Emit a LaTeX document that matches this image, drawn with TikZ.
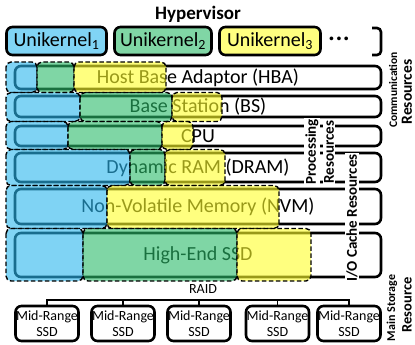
\documentclass[tikz,border=0pt]{standalone}
\usepackage{fontspec}
\setmainfont{Carlito}
\definecolor{ublue}{RGB}{128,212,245}
\definecolor{ugreen}{RGB}{128,214,165}
\definecolor{uyellow}{RGB}{255,255,128}
\definecolor{oblue}{RGB}{43,183,238}
\definecolor{ogreen}{RGB}{43,187,105}
\definecolor{oyellow}{RGB}{255,255,43}
\tikzset{
 ubox/.style={draw, line width=2.6pt, rounded corners=6pt, minimum height=28pt, inner sep=0pt, font=\fontsize{20}{24}\selectfont},
 resbar/.style={draw, fill=white, line width=2.6pt, rounded corners=6pt, inner sep=0pt, minimum width=366pt, font=\fontsize{20}{24}\selectfont},
 seg/.style={fill=#1, fill opacity=0.6, draw=black, line width=1.4pt, dash pattern=on 4.5pt off 2.5pt, rounded corners=5pt},
 vlab/.style={rotate=90, fill=white, inner sep=1pt, font=\bfseries\fontsize{15}{18}\selectfont},
 ssdbox/.style={draw, line width=2.6pt, rounded corners=6pt, minimum width=63pt, minimum height=35pt, inner sep=0pt, align=center, font=\fontsize{14}{16}\selectfont},
 conn/.style={draw, line width=1.4pt},
}
\begin{document}
\begin{tikzpicture}[x=1pt,y=-1pt]
\useasboundingbox (0,0) rectangle (415,345);
% title
\node[font=\bfseries\fontsize{19}{22}\selectfont] (hyp) at (198,14) {Hypervisor};
% unikernels
\node[ubox, fill=ublue, minimum width=100pt] (u1) at (56.5,41) {Unikernel\textsubscript{1}};
\node[ubox, fill=ugreen, minimum width=97pt] (u2) at (163,41) {Unikernel\textsubscript{2}};
\node[ubox, fill=uyellow, minimum width=101pt] (u3) at (270,41) {Unikernel\textsubscript{3}};
\node[font=\bfseries\fontsize{20}{24}\selectfont] (dots) at (339,41) {·\hspace{2pt}·\hspace{2pt}·};
\draw[line width=2.6pt, rounded corners=4pt] (372,28) -- (381,28) -- (381,55) -- (372,55);
% resource bars
\node[resbar, minimum height=23pt] (hba) at (198,77.5) {Host Base Adaptor (HBA)};
\node[resbar, minimum height=21pt] (bs) at (198,106.5) {Base Station (BS)};
\node[resbar, minimum height=20pt] (cpu) at (198,136) {CPU};
\node[resbar, minimum height=29pt] (dram) at (198,167.5) {Dynamic RAM (DRAM)};
\node[resbar, minimum height=35pt] (nvm) at (198,206.5) {Non-Volatile Memory (NVM)};
\node[resbar, minimum height=44pt] (ssd) at (198,255) {High-End SSD};
% allocations
% row 1
\path[seg=oblue] (6,62) rectangle (37,92.5);
\path[seg=ogreen] (37,62) rectangle (74,92.5);
\path[seg=oyellow] (74,62) rectangle (166,92.5);
% row 2
\path[seg=oblue] (6,92.5) rectangle (80,121.5);
\path[seg=ogreen] (80,92.5) rectangle (172,121.5);
\path[seg=oyellow] (172,92.5) rectangle (222,121.5);
% row 3
\path[seg=oblue] (6,121.5) rectangle (68,149.5);
\path[seg=ogreen] (68,121.5) rectangle (162,149.5);
\path[seg=oyellow] (162,121.5) rectangle (193,149.5);
% row 4
\path[seg=oblue] (6,149.5) rectangle (130,185.5);
\path[seg=ogreen] (130,149.5) rectangle (165,185.5);
\path[seg=oyellow] (165,149.5) rectangle (225,185.5);
% row 5
\path[seg=oblue] (6,185.5) rectangle (107,228.5);
\path[seg=oyellow] (107,185.5) rectangle (279,228.5);
% row 6
\path[seg=oblue] (6,228.5) rectangle (83,281);
\path[seg=ogreen] (83,228.5) rectangle (237,281);
\path[seg=oyellow] (237,228.5) rectangle (311,281);
% resource group labels
\node[rotate=90, font=\bfseries\fontsize{11.5}{13}\selectfont, inner sep=0pt] (comm1) at (393,90) {Communication};
\node[rotate=90, font=\bfseries\fontsize{15.5}{18}\selectfont, inner sep=0pt] (comm2) at (407,92) {Resources};
\node[vlab] (proc1) at (312,152) {Processing};
\node[vlab] (proc2) at (329,152) {Resources};
\node[vlab] (ioc) at (352,218) {I/O Cache Resources};
\node[rotate=90, font=\bfseries\fontsize{12}{14}\selectfont, inner sep=0pt] (ms1) at (392,308) {Main Storage};
\node[rotate=90, font=\bfseries\fontsize{14.5}{17}\selectfont, inner sep=0pt] (ms2) at (407,305) {Resource};
% RAID
\node[font=\fontsize{14}{16}\selectfont] (raid) at (203,289) {RAID};
\node[ssdbox] (s1) at (47,323.5) {Mid-Range\\SSD};
\node[ssdbox] (s2) at (123,323.5) {Mid-Range\\SSD};
\node[ssdbox] (s3) at (199,323.5) {Mid-Range\\SSD};
\node[ssdbox] (s4) at (277.5,323.5) {Mid-Range\\SSD};
\node[ssdbox] (s5) at (349,323.5) {Mid-Range\\SSD};
\coordinate (rl) at (0,300);
\path[conn] (s1.north) -- (s1.north |- rl) -- (s5.north |- rl) -- (s5.north);
\path[conn] (s2.north) -- (s2.north |- rl);
\path[conn] (s3.north) -- (s3.north |- rl);
\path[conn] (s4.north) -- (s4.north |- rl);
\end{tikzpicture}
\end{document}
